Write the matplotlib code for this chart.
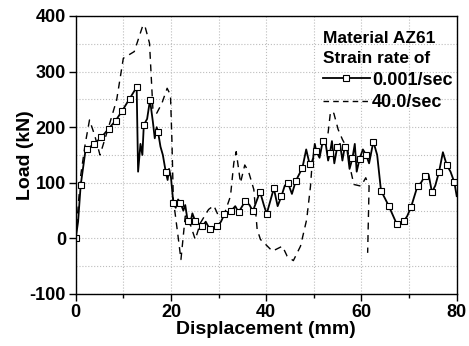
import matplotlib.pyplot as plt
from matplotlib.lines import Line2D

plt.rcParams['font.family'] = ['Liberation Sans', 'DejaVu Sans']
plt.rcParams['font.weight'] = 'bold'
plt.rcParams['axes.unicode_minus'] = False

# Data: 0.001/sec (solid line, square markers)
xm = [0, 1.05, 2.45, 3.9, 5.4, 6.9, 8.4, 9.8, 11.3, 12.8, 14.3, 15.6, 17.3, 18.9,
      20.5, 22.0, 23.5, 25.1, 26.6, 28.2, 29.7, 31.2, 32.7, 34.2, 35.6, 37.2, 38.7,
      40.1, 41.6, 43.2, 44.6, 46.2, 47.6, 49.1, 50.5, 51.9, 53.4, 54.9, 56.5, 58.1,
      59.6, 61.0, 62.5, 64.1, 65.7, 67.4, 68.9, 70.4, 71.8, 73.3, 74.8, 76.3, 77.9, 79.5]
ym = [0, 96, 161, 170, 182, 197, 212, 230, 251, 272, 204, 249, 191, 120,
      64, 64, 32, 31, 22, 16, 22, 43, 50, 47, 67, 49, 84,
      44, 90, 76, 99, 103, 127, 134, 157, 176, 154, 164, 165, 144,
      143, 150, 174, 86, 59, 26, 31, 56, 95, 112, 83, 120, 132, 101]

# extra noisy points between markers of the solid line
xs_extra = [0.5, 1.6, 2.0, 13.1, 13.6, 14.0, 15.0, 16.2, 16.6, 17.0, 17.8, 18.3, 19.3,
            19.6, 20.0, 21.0, 21.5, 22.6, 23.0, 24.0, 24.5, 27.3, 30.5, 33.5, 36.5,
            39.5, 42.4, 43.9, 45.4, 48.4, 49.8, 50.2, 51.2, 52.5, 53.0, 53.8, 54.3,
            55.5, 56.0, 57.0, 57.5, 58.6, 59.0, 60.3, 61.6, 63.3, 69.6, 72.5, 74.1,
            75.5, 77.1, 78.7, 80.0]
ys_extra = [30, 130, 155, 120, 170, 150, 215, 210, 180, 200, 165, 150, 105,
            125, 110, 55, 70, 50, 60, 25, 45, 30, 30, 58, 60,
            60, 58, 95, 80, 160, 140, 170, 145, 170, 140, 175, 135,
            170, 140, 160, 125, 170, 120, 160, 135, 150, 40, 100, 115,
            95, 155, 120, 76]

# Data: 40.0/sec (dashed line)
xd = [0, 1.0, 2.0, 2.9, 4.0, 5.1, 6.9, 8.6, 10.0, 12.3, 14.1, 14.5, 15.5, 16.2, 17.0,
      18.1, 19.2, 19.9, 20.2, 20.5, 21.4, 22.1, 23.0, 23.5, 25.1, 26.2, 27.9, 29.0,
      30.0, 31.3, 32.5, 33.2, 33.7, 34.6, 35.5, 36.3, 37.4, 38.1, 38.8, 39.9, 41.3,
      43.4, 44.4, 45.7, 47.2, 48.5, 49.3, 49.7, 50.3, 51.8, 53.0, 53.5, 54.2, 55.1,
      56.0, 57.1, 57.7, 58.4, 59.9, 60.9, 61.6, 61.3]
yd = [0, 110, 170, 213, 185, 150, 200, 249, 324, 336, 383, 383, 351, 234, 225,
      243, 270, 258, 177, 70, 10, -38, 40, 40, -2, 28, 52, 59,
      40, 46, 76, 136, 156, 100, 132, 120, 88, 16, -2, -11, -23,
      -14, -32, -40, -14, 34, 94, 142, 155, 163, 190, 228, 225, 196,
      178, 160, 124, 97, 94, 109, 94, -26]

pts = sorted(zip(xm + xs_extra, ym + ys_extra))
xs = [p[0] for p in pts]
ys = [p[1] for p in pts]

fig = plt.figure(figsize=(4.69, 3.46), dpi=100)
ax = fig.add_axes([0.1614, 0.1503, 0.8124, 0.8035])

ax.plot(xd, yd, color='black', lw=1.0, ls=(0, (5, 4)))
ax.plot(xs, ys, color='black', lw=1.3)
ax.plot(xm, ym, ls='none', marker='s', ms=5, mfc='white', mec='black', mew=0.8)

ax.set_xlim(0, 80)
ax.set_ylim(-100, 400)
ax.set_xticks([0, 20, 40, 60, 80])
ax.set_xticks([10, 30, 50, 70], minor=True)
ax.set_yticks([-100, 0, 100, 200, 300, 400])
ax.set_yticks([-50, 50, 150, 250, 350], minor=True)
ax.grid(True, which='both', color='#bdbdbd', ls=':', lw=0.8)
ax.tick_params(which='major', direction='out', length=5, width=1, labelsize=13, pad=2)
ax.tick_params(axis='x', which='minor', direction='out', length=3, width=1)
ax.tick_params(axis='y', which='minor', length=0)
for lab in ax.get_xticklabels() + ax.get_yticklabels():
    lab.set_fontweight('bold')
for s in ax.spines.values():
    s.set_linewidth(1.0)

ax.set_xlabel('Displacement (mm)', fontsize=14, fontweight='bold', labelpad=0)
ax.set_ylabel('Load (kN)', fontsize=14, fontweight='bold', labelpad=-3)

h1 = Line2D([], [], color='black', lw=1.3, marker='s', ms=4, mfc='white', mec='black', mew=0.8)
h2 = Line2D([], [], color='black', lw=1.0, ls=(0, (4, 3)))
leg = ax.legend([h1, h2], ['0.001/sec', '40.0/sec'], title='Material AZ61\nStrain rate of',
                loc='upper left', bbox_to_anchor=(0.648, 0.945), frameon=False, fontsize=13,
                handlelength=2.6, handletextpad=0.15, borderaxespad=0, borderpad=0,
                labelspacing=0.32)
leg.get_title().set_fontweight('bold')
leg.get_title().set_fontsize(12.5)
leg.get_title().set_linespacing(1.4)
leg._legend_box.align = 'left'
leg._legend_box.sep = 4

fig.savefig('out.png', dpi=100)
